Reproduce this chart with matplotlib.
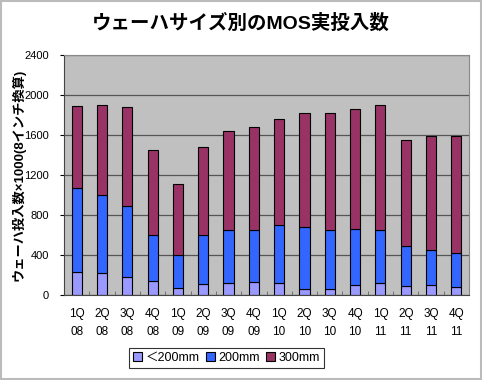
import numpy as np
import matplotlib
matplotlib.use('Agg')
import matplotlib.pyplot as plt
from matplotlib.patches import Rectangle

plt.rcParams['font.family'] = ['Liberation Sans', 'Noto Sans CJK JP', 'DejaVu Sans']

quarters = ['1Q\n08', '2Q\n08', '3Q\n08', '4Q\n08', '1Q\n09', '2Q\n09', '3Q\n09', '4Q\n09',
            '1Q\n10', '2Q\n10', '3Q\n10', '4Q\n10', '1Q\n11', '2Q\n11', '3Q\n11', '4Q\n11']
# cumulative readings, converted to segment heights below
total = [1890, 1905, 1880, 1448, 1107, 1485, 1638, 1681,
         1755, 1815, 1822, 1862, 1896, 1551, 1595, 1595]
upto_200 = [1074, 997, 890, 599, 399, 603, 653, 653,
            699, 679, 653, 659, 653, 489, 453, 419]
small = [232, 222, 178, 142, 72, 112, 122, 132,
         122, 62, 58, 102, 118, 92, 102, 78]

mm200 = [a - b for a, b in zip(upto_200, small)]
mm300 = [a - b for a, b in zip(total, upto_200)]

c_small = '#9999FF'
c_200 = '#3366FF'
c_300 = '#993366'

fig = plt.figure(figsize=(4.82, 3.80), dpi=100)
fig.patch.set_facecolor('white')
fig.add_artist(Rectangle((0.002, 0.003), 0.995, 0.994, transform=fig.transFigure,
                         fill=False, edgecolor='#BBBBBB', linewidth=1.5))

ax = fig.add_axes([64 / 482, 85 / 380, 405 / 482, 240 / 380])
ax.set_facecolor('#C0C0C0')

x = np.arange(len(quarters))
w = 0.4
b1 = ax.bar(x, small, w, color=c_small, edgecolor='black', linewidth=0.8, label='＜200mm')
b2 = ax.bar(x, mm200, w, bottom=small, color=c_200, edgecolor='black', linewidth=0.8, label='200mm')
b3 = ax.bar(x, mm300, w, bottom=upto_200, color=c_300, edgecolor='black', linewidth=0.8, label='300mm')

ax.set_xlim(-0.5, len(quarters) - 0.5)
ax.set_ylim(0, 2400)
ax.set_yticks(np.arange(0, 2401, 400))
ax.yaxis.grid(True, color='#555555', linewidth=0.9)
ax.set_axisbelow(True)

ax.set_xticks(x)
ax.set_xticklabels(quarters, fontsize=8.5, linespacing=1.75)
ax.set_xticks(np.arange(0.5, len(quarters) - 0.5, 1), minor=True)
ax.tick_params(axis='x', which='major', length=0, pad=9)
ax.tick_params(axis='x', which='minor', direction='in', length=3, color='#666666')
ax.tick_params(axis='y', labelsize=8, length=3, direction='out', pad=8)

for s in ['top', 'right']:
    ax.spines[s].set_color('#888888')
for s in ['left', 'bottom']:
    ax.spines[s].set_color('#444444')

fig.text(18 / 482, (380 - 175) / 380, 'ウェーハ投入数×1000(8インチ換算)', rotation=90,
         ha='center', va='center', fontsize=9.5, fontweight='bold')

fig.text(0.5, 0.94, 'ウェーハサイズ別のMOS実投入数', ha='center', va='center',
         fontsize=14, fontweight='bold')

leg = fig.legend(handles=[b1, b2, b3], loc='center', bbox_to_anchor=(0.47, 0.058),
                 ncol=3, fontsize=9, frameon=True, fancybox=False, handlelength=0.7,
                 handleheight=0.7, handletextpad=0.3, columnspacing=0.5, borderpad=0.3)
leg.get_frame().set_edgecolor('black')
leg.get_frame().set_linewidth(0.8)

fig.savefig('out.png', dpi=100)
